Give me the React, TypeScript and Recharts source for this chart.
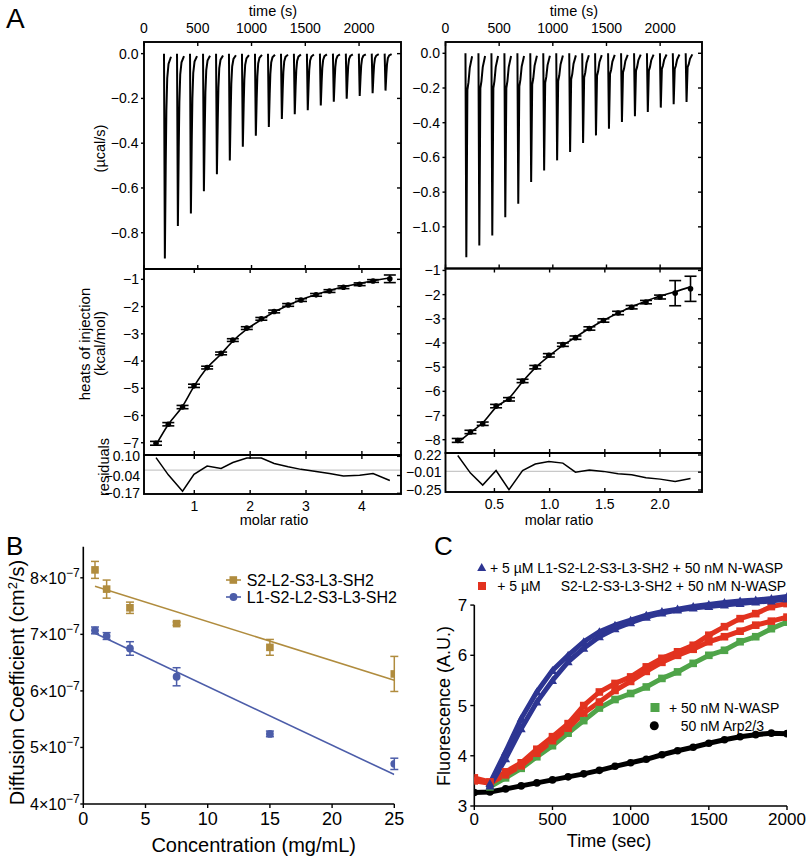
import React from "react";
import { ComposedChart, ErrorBar, Line, ReferenceLine, Scatter, XAxis, YAxis } from "recharts";

const PAGE_W = 807;
const PAGE_H = 857;
const FONT = '"Liberation Sans", Arial, Helvetica, sans-serif';
const AX = 20;

// ---- A: raw ITC traces (µcal/s) ----
const INJECTION_TIMES = [186, 307, 428, 549, 670, 790, 911, 1032, 1153, 1274, 1394, 1515, 1636, 1757, 1877, 1998, 2118, 2238];
const LEFT_PEAKS = [-0.915, -0.77, -0.714, -0.615, -0.539, -0.477, -0.416, -0.367, -0.328, -0.292, -0.271, -0.253, -0.232, -0.215, -0.201, -0.189, -0.177, -0.165];
const RIGHT_PEAKS = [-1.175, -1.108, -1.05, -0.944, -0.867, -0.742, -0.675, -0.617, -0.569, -0.517, -0.473, -0.435, -0.396, -0.363, -0.338, -0.313, -0.294, -0.281];
const RIGHT_SHOULDERS = [-0.21, -0.2, -0.2, -0.2, -0.19, -0.18, -0.17, -0.16, -0.15, -0.14, -0.13, -0.12, -0.11, -0.1, -0.1, -0.09, -0.09, -0.08];
// shape of one injection: seconds after injection / fraction of the peak
const LEFT_DECAY_SEC = [0, 8, 16, 22, 30, 42, 65];
const LEFT_DECAY_FRAC = [0, 1, 0.55, 0.28, 0.12, 0.05, 0.015];
const RIGHT_DECAY_SEC = [0, 8, 18, 28, 40, 62];

// ---- A: integrated heats ----
const LEFT_RATIO = [0.315, 0.535, 0.79, 0.995, 1.23, 1.48, 1.69, 1.94, 2.2, 2.43, 2.68, 2.91, 3.18, 3.42, 3.67, 3.96, 4.2, 4.5];
const LEFT_HEAT = [-7.02, -6.32, -5.69, -4.91, -4.24, -3.72, -3.23, -2.79, -2.45, -2.18, -1.94, -1.76, -1.57, -1.43, -1.29, -1.18, -1.06, -0.98];
const LEFT_HEAT_ERR = [0.07, 0.06, 0.06, 0.06, 0.05, 0.05, 0.05, 0.05, 0.05, 0.05, 0.05, 0.05, 0.05, 0.05, 0.05, 0.05, 0.05, 0.14];
const LEFT_FIT = [-7.08, -6.33, -5.66, -4.93, -4.25, -3.74, -3.27, -2.83, -2.48, -2.2, -1.95, -1.75, -1.56, -1.41, -1.27, -1.15, -1.05, -0.95];
const LEFT_RESID = [0.091, -0.035, -0.155, -0.031, 0.029, 0.012, 0.055, 0.088, 0.088, 0.048, 0.024, 0.005, -0.01, -0.026, -0.043, -0.038, -0.026, -0.076];

const RIGHT_RATIO = [0.168, 0.283, 0.394, 0.515, 0.632, 0.755, 0.87, 0.993, 1.12, 1.234, 1.36, 1.487, 1.62, 1.743, 1.873, 2.0, 2.137, 2.276];
const RIGHT_HEAT = [-8.03, -7.68, -7.34, -6.61, -6.33, -5.57, -5.0, -4.51, -4.07, -3.78, -3.4, -3.07, -2.76, -2.52, -2.31, -2.1, -1.94, -1.76];
const RIGHT_HEAT_ERR = [0.08, 0.07, 0.07, 0.07, 0.07, 0.07, 0.07, 0.07, 0.07, 0.07, 0.07, 0.07, 0.07, 0.07, 0.07, 0.08, 0.52, 0.52];
const RIGHT_FIT = [-8.12, -7.7, -7.3, -6.66, -6.28, -5.6, -5.03, -4.55, -4.1, -3.76, -3.4, -3.07, -2.76, -2.5, -2.27, -2.06, -1.88, -1.68];
const RIGHT_RESID = [0.213, -0.023, -0.184, 0.012, -0.247, 0.012, 0.098, 0.133, 0.111, -0.01, 0.017, 0, -0.032, -0.046, -0.086, -0.104, -0.135, -0.095];

const TIME_TICKS = [0, 500, 1000, 1500, 2000];
const LEFT_UCAL_TICKS = [0, -0.2, -0.4, -0.6, -0.8];
const RIGHT_UCAL_TICKS = [0, -0.2, -0.4, -0.6, -0.8, -1.0];
const LEFT_HEAT_TICKS = [-1, -2, -3, -4, -5, -6, -7];
const RIGHT_HEAT_TICKS = [-1, -2, -3, -4, -5, -6, -7, -8];
const LEFT_RATIO_TICKS = [1, 2, 3, 4];
const RIGHT_RATIO_TICKS = [0.5, 1.0, 1.5, 2.0];
const LEFT_RES_TICKS = [0.1, -0.04, -0.17];
const RIGHT_RES_TICKS = [0.22, -0.01, -0.25];

// ---- B: diffusion coefficients ----
const CONC = [0.94, 1.875, 3.75, 7.5, 15, 25];
const D_SHORT = [8.14e-7, 7.8e-7, 7.47e-7, 7.19e-7, 6.77e-7, 6.3e-7];
const D_SHORT_ERR = [0.15e-7, 0.16e-7, 0.1e-7, 0.03e-7, 0.14e-7, 0.31e-7];
const D_LONG = [7.07e-7, 6.97e-7, 6.75e-7, 6.25e-7, 5.24e-7, 4.71e-7];
const D_LONG_ERR = [0.06e-7, 0.06e-7, 0.12e-7, 0.16e-7, 0.05e-7, 0.1e-7];
const FIT_SHORT = [7.85e-7, null, null, null, null, 6.19e-7];
const FIT_LONG = [7.02e-7, null, null, null, null, 4.52e-7];
const CONC_TICKS = [0, 5, 10, 15, 20, 25];
const D_TICKS = [4e-7, 5e-7, 6e-7, 7e-7, 8e-7];

// ---- C: pyrene actin ----
const TIME = [0, 100, 200, 300, 400, 500, 600, 700, 800, 900, 1000, 1100, 1200, 1300, 1400, 1500, 1600, 1700, 1800, 1900, 2000];
const BLUE_A = [null, 3.45, 4.08, 4.74, 5.27, 5.7, 6.0, 6.27, 6.47, 6.6, 6.7, 6.8, 6.87, 6.92, 6.97, 7.01, 7.05, 7.08, 7.1, 7.13, 7.17];
const BLUE_B = [null, 3.4, 3.94, 4.54, 5.07, 5.5, 5.87, 6.14, 6.37, 6.53, 6.65, 6.76, 6.84, 6.9, 6.94, 6.97, 7.0, 7.03, 7.06, 7.08, 7.12];
const RED_A = [3.56, 3.48, 3.68, 3.86, 4.13, 4.38, 4.64, 5.0, 5.27, 5.44, 5.57, 5.77, 5.94, 6.07, 6.2, 6.4, 6.57, 6.73, 6.83, 6.97, 7.03];
const RED_B = [3.5, 3.45, 3.62, 3.8, 4.05, 4.3, 4.55, 4.85, 5.07, 5.3, 5.48, 5.68, 5.86, 6.0, 6.12, 6.27, 6.37, 6.48, 6.6, 6.68, 6.76];
const GREEN = [null, 3.38, 3.56, 3.75, 3.98, 4.2, 4.45, 4.7, 4.95, 5.12, 5.24, 5.37, 5.54, 5.67, 5.84, 6.0, 6.1, 6.27, 6.37, 6.53, 6.66];
const BLACK = [3.27, 3.28, 3.34, 3.4, 3.46, 3.52, 3.58, 3.64, 3.71, 3.79, 3.86, 3.93, 4.02, 4.1, 4.17, 4.25, 4.32, 4.38, 4.42, 4.45, 4.44];
const C_TIME_TICKS = [0, 500, 1000, 1500, 2000];
const C_FLUOR_TICKS = [3, 4, 5, 6, 7];

const GOLD = "#B08C3E";
const SLATE = "#4C5DA9";
const C_BLUE = "#2D3592";
const C_RED = "#E2321F";
const C_GREEN = "#4FA449";

type Box = { L: number; R: number; T: number; B: number };
const boxMargin = (b: Box) => ({ top: b.T - AX, left: b.L - AX, right: PAGE_W - b.R - AX, bottom: PAGE_H - b.B - AX });
const fmt = (d: number) => (v: number) => v.toFixed(d).replace("-", "\u2212");

type Side = "top" | "bottom" | "left" | "right";
function edgeTick(side: Side, opts: { len?: number; gap?: number; size?: number; fmt?: (v: number) => string } = {}) {
  const { len = 0, gap = 5, size = 14 } = opts;
  return (p: any) => {
    const { x, y, payload } = p;
    let line: React.ReactNode = null;
    if (len) {
      const d = side === "top" ? [0, len] : side === "bottom" ? [0, -len] : side === "left" ? [len, 0] : [-len, 0];
      line = <line x1={x} y1={y} x2={x + d[0]} y2={y + d[1]} stroke="#000" strokeWidth={1.4} />;
    }
    let label: React.ReactNode = null;
    if (opts.fmt) {
      const s = opts.fmt(payload.value);
      const t = { fontSize: size, fontFamily: FONT, fill: "#000" };
      if (side === "top") label = <text x={x} y={y - gap} textAnchor="middle" {...t}>{s}</text>;
      if (side === "bottom") label = <text x={x} y={y + gap} textAnchor="middle" {...t}>{s}</text>;
      if (side === "left") label = <text x={x - gap} y={y + size * 0.36} textAnchor="end" {...t}>{s}</text>;
      if (side === "right") label = <text x={x + gap} y={y + size * 0.36} textAnchor="start" {...t}>{s}</text>;
    }
    return <g>{line}{label}</g>;
  };
}

const bare = { type: "number" as const, tickSize: 0, tickMargin: 0, tickLine: false, interval: 0 as const, axisLine: false, allowDataOverflow: true };
const solid = { stroke: "#000", strokeWidth: 1.6 };

function leftTrace() {
  const rows: { t: number; v: number | null }[] = [];
  INJECTION_TIMES.forEach((t0, i) => {
    LEFT_DECAY_SEC.forEach((dt, k) => rows.push({ t: t0 + dt, v: LEFT_PEAKS[i] * LEFT_DECAY_FRAC[k] }));
    rows.push({ t: t0 + 90, v: null });
  });
  return rows;
}

function rightTrace() {
  const rows: { t: number; v: number | null }[] = [];
  INJECTION_TIMES.forEach((t0, i) => {
    const s = RIGHT_SHOULDERS[i];
    [0, RIGHT_PEAKS[i], s, s * 0.8, s * 0.4, s * 0.08].forEach((v, k) => rows.push({ t: t0 + RIGHT_DECAY_SEC[k], v }));
    rows.push({ t: t0 + 90, v: null });
  });
  return rows;
}

type Col = {
  thermo: Box; iso: Box; res: Box;
  trace: { t: number; v: number | null }[];
  ucalDomain: number[]; ucalTicks: number[];
  ratioDomain: number[]; ratioTicks: number[]; ratioFmt: (v: number) => string;
  heatDomain: number[]; heatTicks: number[];
  resDomain: number[]; resTicks: number[];
  rows: { x: number; y: number; err: number; fit: number; res: number }[];
};

const LEFT_COL: Col = {
  thermo: { L: 144, R: 401, T: 42, B: 269 },
  iso: { L: 144, R: 401, T: 269, B: 455 },
  res: { L: 144, R: 401, T: 455, B: 494 },
  trace: leftTrace(),
  ucalDomain: [-0.962, 0.052], ucalTicks: LEFT_UCAL_TICKS,
  ratioDomain: [0.1, 4.7], ratioTicks: LEFT_RATIO_TICKS, ratioFmt: fmt(0),
  heatDomain: [-7.45, -0.62], heatTicks: LEFT_HEAT_TICKS,
  resDomain: [-0.175, 0.11], resTicks: LEFT_RES_TICKS,
  rows: LEFT_RATIO.map((x, i) => ({ x, y: LEFT_HEAT[i], err: LEFT_HEAT_ERR[i], fit: LEFT_FIT[i], res: LEFT_RESID[i] })),
};

const RIGHT_COL: Col = {
  thermo: { L: 445.5, R: 702, T: 42, B: 268.5 },
  iso: { L: 445.5, R: 702, T: 268.5, B: 453 },
  res: { L: 445.5, R: 702, T: 453, B: 492 },
  trace: rightTrace(),
  ucalDomain: [-1.24, 0.065], ucalTicks: RIGHT_UCAL_TICKS,
  ratioDomain: [0.057, 2.38], ratioTicks: RIGHT_RATIO_TICKS, ratioFmt: fmt(1),
  heatDomain: [-8.55, -0.92], heatTicks: RIGHT_HEAT_TICKS,
  resDomain: [-0.277, 0.247], resTicks: RIGHT_RES_TICKS,
  rows: RIGHT_RATIO.map((x, i) => ({ x, y: RIGHT_HEAT[i], err: RIGHT_HEAT_ERR[i], fit: RIGHT_FIT[i], res: RIGHT_RESID[i] })),
};

const layer: React.CSSProperties = { position: "absolute", left: 0, top: 0 };

function ItcColumn({ col }: { col: Col }) {
  const resFmt = fmt(2);
  return (
    <>
      <div style={layer}>
        <ComposedChart width={PAGE_W} height={PAGE_H} data={col.trace} margin={boxMargin(col.thermo)}>
          <XAxis {...bare} xAxisId="t" orientation="top" dataKey="t" domain={[0, 2390]} ticks={TIME_TICKS} height={AX} tick={edgeTick("top", { len: 4, gap: 9, fmt: (v) => String(v) })} />
          <XAxis {...bare} xAxisId="b" orientation="bottom" dataKey="t" domain={[0, 2390]} ticks={TIME_TICKS} height={AX} tick={edgeTick("bottom", { len: 4 })} />
          <YAxis {...bare} yAxisId="l" domain={col.ucalDomain} ticks={col.ucalTicks} width={AX} tick={edgeTick("left", { len: -3, gap: 5.5, fmt: fmt(1) })} />
          <YAxis {...bare} yAxisId="r" orientation="right" domain={col.ucalDomain} ticks={col.ucalTicks} width={AX} tick={edgeTick("right", { len: 4 })} />
          <Line xAxisId="t" yAxisId="l" type="linear" dataKey="v" stroke="#000" strokeWidth={2} dot={false} connectNulls={false} isAnimationActive={false} />
        </ComposedChart>
      </div>
      <div style={layer}>
        <ComposedChart width={PAGE_W} height={PAGE_H} data={col.rows} margin={boxMargin(col.iso)}>
          <XAxis {...bare} xAxisId="t" orientation="top" dataKey="x" domain={col.ratioDomain} ticks={col.ratioTicks} height={AX} tick={edgeTick("top", { len: 4 })} />
          <XAxis {...bare} xAxisId="b" orientation="bottom" dataKey="x" domain={col.ratioDomain} ticks={col.ratioTicks} height={AX} tick={edgeTick("bottom", { len: 4 })} />
          <YAxis {...bare} yAxisId="l" domain={col.heatDomain} ticks={col.heatTicks} width={AX} tick={edgeTick("left", { len: -3, gap: 5, fmt: fmt(0) })} />
          <YAxis {...bare} yAxisId="r" orientation="right" domain={col.heatDomain} ticks={col.heatTicks} width={AX} tick={edgeTick("right", { len: 4 })} />
          <Line xAxisId="b" yAxisId="l" type="monotone" dataKey="fit" stroke="#000" strokeWidth={1.6} dot={false} isAnimationActive={false} />
          <Scatter
            xAxisId="b"
            yAxisId="l"
            dataKey="y"
            isAnimationActive={false}
            shape={(p: any) => <circle cx={p.cx} cy={p.cy} r={2.8} fill="#000" />}
          >
            <ErrorBar dataKey="err" direction="y" width={6} stroke="#000" strokeWidth={1.6} />
          </Scatter>
        </ComposedChart>
      </div>
      <div style={layer}>
        <ComposedChart width={PAGE_W} height={PAGE_H} data={col.rows} margin={boxMargin(col.res)}>
          <XAxis {...bare} xAxisId="t" orientation="top" dataKey="x" domain={col.ratioDomain} ticks={col.ratioTicks} height={AX} tick={edgeTick("top", { len: 4 })} />
          <XAxis {...bare} xAxisId="b" orientation="bottom" dataKey="x" domain={col.ratioDomain} ticks={col.ratioTicks} height={AX} tick={edgeTick("bottom", { len: 4, gap: 16.5, fmt: col.ratioFmt })} />
          <YAxis {...bare} yAxisId="l" domain={col.resDomain} ticks={col.resTicks} width={AX} tick={edgeTick("left", { gap: 4, fmt: resFmt })} />
          <YAxis {...bare} yAxisId="r" orientation="right" domain={col.resDomain} ticks={col.resTicks} width={AX} tick={edgeTick("right", { len: 4 })} />
          <ReferenceLine xAxisId="b" yAxisId="l" y={0} stroke="#c8c8c8" strokeWidth={1.2} />
          <Line xAxisId="b" yAxisId="l" type="linear" dataKey="res" stroke="#000" strokeWidth={1.5} dot={false} isAnimationActive={false} />
        </ComposedChart>
      </div>
    </>
  );
}

const diffRows = CONC.map((c, i) => ({
  c, s: D_SHORT[i], se: D_SHORT_ERR[i], l: D_LONG[i], le: D_LONG_ERR[i], fs: FIT_SHORT[i], fl: FIT_LONG[i],
}));

const diffTick = (p: any) => {
  const { x, y, payload } = p;
  const m = Math.round(payload.value * 1e7);
  return (
    <g>
      <line x1={x} y1={y} x2={x - 3} y2={y} stroke="#000" strokeWidth={1.4} />
      <text x={x - 3.5} y={y + 6} textAnchor="end" fontFamily={FONT} fontSize={16} fill="#000">
        {m}×10<tspan dy={-7} fontSize={12}>{"\u22127"}</tspan>
      </text>
    </g>
  );
};

function DiffusionChart() {
  return (
    <ComposedChart width={PAGE_W} height={PAGE_H} data={diffRows} margin={{ top: 546.7, left: 83.3 - 70, right: PAGE_W - 394.3, bottom: PAGE_H - 804 - 40 }}>
      <XAxis {...bare} axisLine={solid} dataKey="c" domain={[0, 25]} ticks={CONC_TICKS} height={40} tick={edgeTick("bottom", { len: -4, gap: 21, size: 18, fmt: (v) => String(v) })} />
      <YAxis {...bare} axisLine={solid} domain={[4e-7, 8.55e-7]} ticks={D_TICKS} width={70} tick={diffTick} />
      <Line dataKey="fs" stroke={GOLD} strokeWidth={1.6} dot={false} connectNulls isAnimationActive={false} />
      <Line dataKey="fl" stroke={SLATE} strokeWidth={1.6} dot={false} connectNulls isAnimationActive={false} />
      <Scatter dataKey="s" isAnimationActive={false} shape={(p: any) => <rect x={p.cx - 3.8} y={p.cy - 3.8} width={7.6} height={7.6} fill={GOLD} />}>
        <ErrorBar dataKey="se" direction="y" width={4} stroke={GOLD} strokeWidth={1.5} />
      </Scatter>
      <Scatter dataKey="l" isAnimationActive={false} shape={(p: any) => <circle cx={p.cx} cy={p.cy} r={3.9} fill={SLATE} />}>
        <ErrorBar dataKey="le" direction="y" width={4} stroke={SLATE} strokeWidth={1.5} />
      </Scatter>
    </ComposedChart>
  );
}

const polyRows = TIME.map((t, i) => ({ t, ba: BLUE_A[i], bb: BLUE_B[i], ra: RED_A[i], rb: RED_B[i], g: GREEN[i], k: BLACK[i] }));

const tri = (color: string) => (p: any) =>
  p.cy == null ? <g key={p.index} /> : <path key={p.index} d={`M${p.cx},${p.cy - 4.5} L${p.cx + 4.5},${p.cy + 3.5} L${p.cx - 4.5},${p.cy + 3.5} Z`} fill={color} />;
const sq = (color: string) => (p: any) =>
  p.cy == null ? <g key={p.index} /> : <rect key={p.index} x={p.cx - 3.8} y={p.cy - 3.8} width={7.6} height={7.6} fill={color} />;
const dotC = (color: string) => (p: any) =>
  p.cy == null ? <g key={p.index} /> : <circle key={p.index} cx={p.cx} cy={p.cy} r={3.8} fill={color} />;

function PolymerizationChart() {
  const band = { type: "linear" as const, strokeWidth: 5, isAnimationActive: false };
  // the fluorescence axis stops at 7 although the traces run a little above it
  return (
    <ComposedChart width={PAGE_W} height={PAGE_H} data={polyRows} margin={{ top: 587.5, left: 474.3 - 40, right: PAGE_W - 787, bottom: PAGE_H - 806 - 40 }}>
      <XAxis {...bare} axisLine={solid} dataKey="t" domain={[0, 2000]} ticks={C_TIME_TICKS} height={40} tick={edgeTick("bottom", { len: -4, gap: 19, size: 17, fmt: (v) => String(v) })} />
      <YAxis {...bare} domain={[3, 7.35]} ticks={C_FLUOR_TICKS} width={40} tick={edgeTick("left", { len: -4, gap: 7, size: 17, fmt: (v) => String(v) })} />
      <ReferenceLine segment={[{ x: 0, y: 3 }, { x: 0, y: 7 }]} stroke="#000" strokeWidth={1.6} />
      <Line {...band} dataKey="k" stroke="#000" dot={dotC("#000")} />
      <Line {...band} dataKey="g" stroke={C_GREEN} dot={sq(C_GREEN)} />
      <Line {...band} dataKey="rb" stroke={C_RED} dot={sq(C_RED)} />
      <Line {...band} dataKey="ra" stroke={C_RED} dot={sq(C_RED)} />
      <Line {...band} dataKey="bb" stroke={C_BLUE} dot={tri(C_BLUE)} />
      <Line {...band} dataKey="ba" stroke={C_BLUE} dot={tri(C_BLUE)} />
    </ComposedChart>
  );
}

const Txt = ({ x, y, size = 14.5, anchor = "start", rot = false, children }: any) => (
  <text x={x} y={y} fontSize={size} fontFamily={FONT} fill="#000" textAnchor={anchor} transform={rot ? `rotate(-90 ${x} ${y})` : undefined}>
    {children}
  </text>
);

// the ITC panels are closed boxes; drawn once here so shared edges are not doubled
const Frame = ({ b }: { b: Box }) => <rect x={b.L} y={b.T} width={b.R - b.L} height={b.B - b.T} fill="none" stroke="#000" strokeWidth={1.9} />;

function Labels() {
  return (
    <svg width={PAGE_W} height={PAGE_H} style={{ position: "absolute", left: 0, top: 0, pointerEvents: "none" }}>
      {[LEFT_COL, RIGHT_COL].map((c, i) => (
        <g key={i}>
          <Frame b={c.thermo} />
          <Frame b={c.iso} />
          <Frame b={c.res} />
        </g>
      ))}
      <Txt x={6} y={28} size={28}>A</Txt>
      <Txt x={273} y={15.5} anchor="middle">time (s)</Txt>
      <Txt x={574} y={15.5} anchor="middle">time (s)</Txt>
      <Txt x={105} y={148.5} anchor="middle" rot>(µcal/s)</Txt>
      <Txt x={90} y={344} anchor="middle" size={15} rot>heats of injection</Txt>
      <Txt x={104.5} y={343.5} anchor="middle" size={15} rot>(kcal/mol)</Txt>
      <Txt x={108.5} y={467} anchor="middle" rot>residuals</Txt>
      <Txt x={274} y={525} anchor="middle">molar ratio</Txt>
      <Txt x={559} y={525} anchor="middle">molar ratio</Txt>

      <Txt x={6} y={555} size={26}>B</Txt>
      <line x1={226} y1={580} x2={241} y2={580} stroke={GOLD} strokeWidth={1.6} />
      <rect x={229.5} y={576.2} width={7.6} height={7.6} fill={GOLD} />
      <Txt x={246.7} y={586} size={16}>S2-L2-S3-L3-SH2</Txt>
      <line x1={226} y1={597} x2={241} y2={597} stroke={SLATE} strokeWidth={1.6} />
      <circle cx={233.5} cy={597} r={3.9} fill={SLATE} />
      <Txt x={246.7} y={603} size={16}>L1-S2-L2-S3-L3-SH2</Txt>
      <Txt x={24} y={682.5} size={20} anchor="middle" rot>
        Diffusion Coefficient (cm<tspan dy={-7} fontSize={13}>2</tspan>
        <tspan dy={7}>/s)</tspan>
      </Txt>
      <Txt x={253.7} y={852} size={20} anchor="middle">Concentration (mg/mL)</Txt>

      <Txt x={434} y={555} size={26}>C</Txt>
      <path d="M481.7,563 L486.2,571 L477.2,571 Z" fill={C_BLUE} />
      <Txt x={490} y={573} size={14}>+ 5 µM L1-S2-L2-S3-L3-SH2 + 50 nM N-WASP</Txt>
      <rect x={478} y={582} width={8} height={8} fill={C_RED} />
      <Txt x={497.3} y={591} size={14}>+ 5 µM</Txt>
      <Txt x={560.7} y={591} size={14}>S2-L2-S3-L3-SH2 + 50 nM N-WASP</Txt>
      <rect x={650.5} y={703} width={9} height={9} fill={C_GREEN} />
      <Txt x={669} y={713} size={14}>+ 50 nM N-WASP</Txt>
      <circle cx={654.3} cy={725.7} r={4.5} fill="#000" />
      <Txt x={680.7} y={731} size={14}>50 nM Arp2/3</Txt>
      <Txt x={450} y={706} size={18} anchor="middle" rot>Fluorescence (A.U.)</Txt>
      <Txt x={609} y={847} size={18} anchor="middle">Time (sec)</Txt>
    </svg>
  );
}

export default function App() {
  return (
    <div style={{ position: "fixed", left: 0, top: 0, width: PAGE_W, height: PAGE_H, background: "#fff", fontFamily: FONT, overflow: "hidden" }}>
      <ItcColumn col={LEFT_COL} />
      <ItcColumn col={RIGHT_COL} />
      <div style={layer}>
        <DiffusionChart />
      </div>
      <div style={layer}>
        <PolymerizationChart />
      </div>
      <Labels />
    </div>
  );
}
